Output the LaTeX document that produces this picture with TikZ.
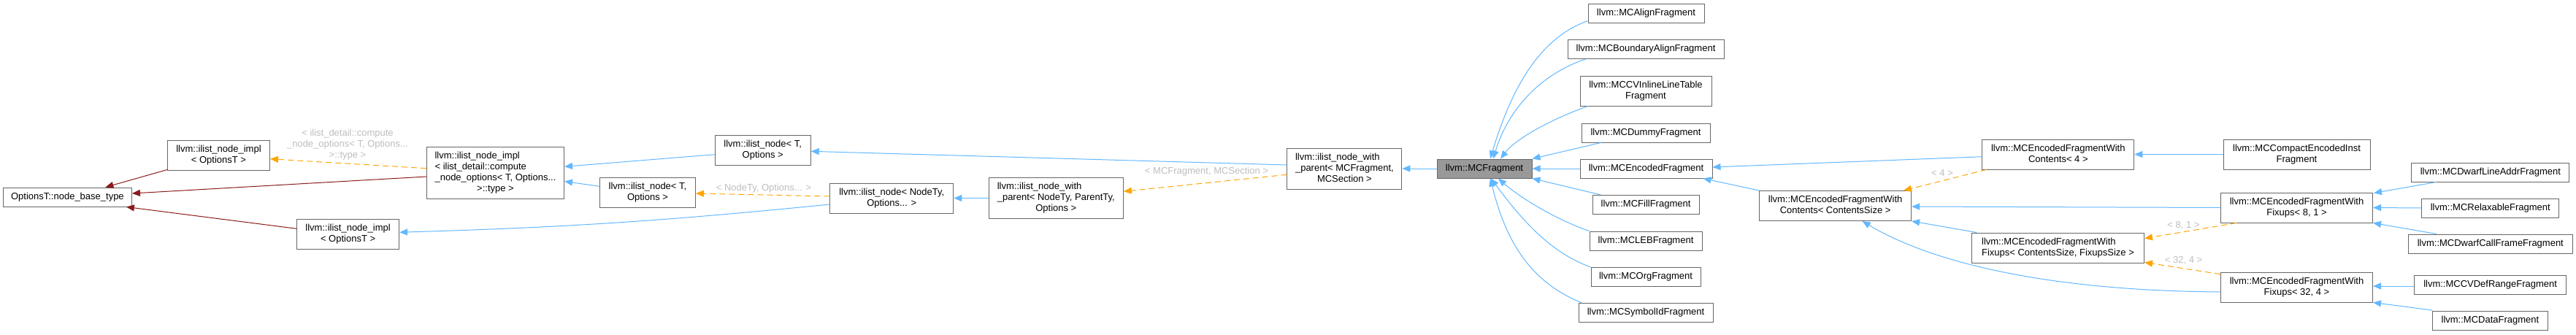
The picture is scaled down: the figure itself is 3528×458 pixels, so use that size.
\documentclass[tikz,border=0pt]{standalone}
\usepackage{fontspec}
\setmainfont{Liberation Sans}
\usetikzlibrary{arrows.meta,calc}
\definecolor{edgeblue}{HTML}{63B8FF}
\definecolor{edgeorange}{HTML}{FFA500}
\definecolor{edgered}{HTML}{8B1A1A}
\definecolor{nodeborder}{HTML}{666666}
\definecolor{nodehi}{HTML}{999999}
\definecolor{labelgray}{HTML}{BEBEBE}
\newcommand{\Cl}[1]{\multicolumn{1}{@{}c@{}}{#1}}
\newcommand{\Tc}[1]{\begin{tabular}{@{}c@{}}#1\end{tabular}}
\newcommand{\Tl}[1]{\begin{tabular}{@{}l@{}}#1\end{tabular}}
\begin{document}
\begin{tikzpicture}[x=1pt,y=-1pt,font=\fontsize{13}{15}\selectfont,
  cls/.style={draw=nodeborder,line width=1pt,fill=white,inner sep=0pt,text=black},
  hicls/.style={cls,fill=nodehi},
  tipx/.style={-{Triangle[length=11pt,width=9pt]}},
  pub/.style={draw=edgeblue,line width=1pt,tipx},
  tmpl/.style={draw=edgeorange,line width=1pt,dash pattern=on 8pt off 5pt,tipx},
  priv/.style={draw=edgered,line width=1pt,tipx},
  elabel/.style={text=labelgray,align=center,inner sep=0pt}]
\fill[white] (0,0) rectangle (3528,458);
\useasboundingbox (0,0) rectangle (3528,458);

% nodes
\node[cls,minimum width=176pt,minimum height=26pt] (base) at (92.4,270) {OptionsT::node\_base\_type};
\node[cls,minimum width=140pt,minimum height=41pt] (implA) at (299.5,212.5) {\Tc{llvm::ilist\_node\_impl\\< OptionsT >}};
\node[cls,minimum width=140pt,minimum height=41pt] (implB) at (476.6,321) {\Tc{llvm::ilist\_node\_impl\\< OptionsT >}};
\node[cls,minimum width=188pt,minimum height=71pt] (implC) at (678.5,236.5) {\Tl{llvm::ilist\_node\_impl\\< ilist\_detail::compute\\\_node\_options< T, Options...\\\Cl{>::type >}}};
\node[cls,minimum width=131pt,minimum height=41pt] (nodeT2) at (887,263.5) {\Tc{llvm::ilist\_node< T,\\Options >}};
\node[cls,minimum width=131pt,minimum height=41pt] (nodeT1) at (1044.7,205.5) {\Tc{llvm::ilist\_node< T,\\Options >}};
\node[cls,minimum width=169pt,minimum height=41pt] (nodeNT) at (1221.3,271.5) {\Tc{llvm::ilist\_node< NodeTy,\\Options... >}};
\node[cls,minimum width=184pt,minimum height=56pt] (wpNT) at (1446.3,271.5) {\Tl{llvm::ilist\_node\_with\\\_parent< NodeTy, ParentTy,\\\Cl{Options >}}};
\node[cls,minimum width=157pt,minimum height=56pt] (wpMC) at (1841.4,231) {\Tl{llvm::ilist\_node\_with\\\_parent< MCFragment,\\\Cl{MCSection >}}};
\node[hicls,minimum width=130pt,minimum height=26pt] (frag) at (2033,231) {llvm::MCFragment};

\node[cls,minimum width=159pt,minimum height=26pt] (align) at (2254.5,18) {llvm::MCAlignFragment};
\node[cls,minimum width=214pt,minimum height=26pt] (boundary) at (2254,67.5) {llvm::MCBoundaryAlignFragment};
\node[cls,minimum width=180pt,minimum height=41pt] (cvinline) at (2254,124.5) {\Tc{llvm::MCCVInlineLineTable\\Fragment}};
\node[cls,minimum width=176pt,minimum height=26pt] (dummy) at (2254,182) {llvm::MCDummyFragment};
\node[cls,minimum width=181pt,minimum height=26pt] (encoded) at (2254.5,231) {llvm::MCEncodedFragment};
\node[cls,minimum width=146pt,minimum height=26pt] (fill) at (2254,280.5) {llvm::MCFillFragment};
\node[cls,minimum width=154pt,minimum height=26pt] (leb) at (2254,330) {llvm::MCLEBFragment};
\node[cls,minimum width=150pt,minimum height=26pt] (org) at (2254,379.5) {llvm::MCOrgFragment};
\node[cls,minimum width=184pt,minimum height=26pt] (symbolid) at (2254,428.5) {llvm::MCSymbolIdFragment};

\node[cls,minimum width=208pt,minimum height=41pt] (wc4) at (2818.8,211.5) {\Tc{llvm::MCEncodedFragmentWith\\Contents< 4 >}};
\node[cls,minimum width=208pt,minimum height=41pt] (wcCS) at (2513.6,282) {\Tc{llvm::MCEncodedFragmentWith\\Contents< ContentsSize >}};
\node[cls,minimum width=236pt,minimum height=41pt] (wfCS) at (2818.5,339.5) {\Tl{llvm::MCEncodedFragmentWith\\Fixups< ContentsSize, FixupsSize >}};
\node[cls,minimum width=201pt,minimum height=41pt] (compact) at (3145.5,211.5) {\Tc{llvm::MCCompactEncodedInst\\Fragment}};
\node[cls,minimum width=208pt,minimum height=41pt] (wf81) at (3145.5,284.5) {\Tc{llvm::MCEncodedFragmentWith\\Fixups< 8, 1 >}};
\node[cls,minimum width=208pt,minimum height=41pt] (wf324) at (3145.5,393.5) {\Tc{llvm::MCEncodedFragmentWith\\Fixups< 32, 4 >}};
\node[cls,minimum width=216pt,minimum height=26pt] (dwarfline) at (3410.8,236) {llvm::MCDwarfLineAddrFragment};
\node[cls,minimum width=188pt,minimum height=26pt] (relax) at (3410.8,285) {llvm::MCRelaxableFragment};
\node[cls,minimum width=225pt,minimum height=26pt] (dwarfcall) at (3410.8,334) {llvm::MCDwarfCallFrameFragment};
\node[cls,minimum width=208pt,minimum height=26pt] (cvdef) at (3410.6,390) {llvm::MCCVDefRangeFragment};
\node[cls,minimum width=158pt,minimum height=26pt] (data) at (3410.4,439.5) {llvm::MCDataFragment};

% edge labels
\node[elabel] (l1) at (476,197.7) {< ilist\_detail::compute\\\_node\_options< T, Options...\\>::type >};
\node[elabel] (l2) at (1046,257.7) {< NodeTy, Options... >};
\node[elabel] (l3) at (1652.5,235) {< MCFragment, MCSection >};
\node[elabel] (l4) at (2660,237) {< 4 >};
\node[elabel] (l5) at (2990.5,309) {< 8, 1 >};
\node[elabel] (l6) at (2990.5,356.7) {< 32, 4 >};

% left part
\draw[priv] ($(implA.south west)+(0,-1)$) -- ($(base.north)+(52,0)$);
\draw[priv] ($(implC.west)+(0,5.5)$) -- ($(base.east)+(0,-5)$);
\draw[priv] ($(implB.west)+(0,-7.7)$) -- ($(base.south east)+(-8,0)$);
\draw[tmpl] ($(implC.west)+(0,-5.8)$) -- ($(implA.east)+(0,5.2)$);
\draw[pub] ($(nodeT2.west)+(0,-8.2)$) -- ($(implC.east)+(0,12)$);
\draw[pub] ($(nodeT1.west)+(0,6.2)$) -- ($(implC.east)+(0,-8.2)$);
\draw[tmpl] ($(nodeNT.west)+(0,-2.5)$) -- ($(nodeT2.east)+(0,1.5)$);
\draw[pub] ($(nodeNT.west)+(0,8.5)$) to[bend left=2] ($(implB.east)+(0,-2.7)$);
\draw[pub] (wpNT.west) -- (nodeNT.east);
\draw[tmpl] ($(wpMC.west)+(0,8.3)$) -- ($(wpNT.east)+(0,-9.2)$);
\draw[pub] ($(wpMC.west)+(0,-5)$) -- ($(nodeT1.east)+(0,1.8)$);
\draw[pub] (frag.west) -- (wpMC.east);

% children of MCFragment
\draw[pub] ($(align.west)+(0,10.7)$) .. controls (2105,53) and (2068,128) .. ($(frag.north)+(8,0)$);
\draw[pub] ($(boundary.south west)+(25,0)$) .. controls (2112,100.7) and (2066,148) .. ($(frag.north)+(12,0)$);
\draw[pub] ($(cvinline.south west)+(11,0)$) .. controls (2125,163) and (2076,190) .. ($(frag.north)+(22,0)$);
\draw[pub] ($(dummy.south west)+(27,0)$) -- (frag.north east);
\draw[pub] (encoded.west) -- (frag.east);
\draw[pub] ($(fill.north west)+(12,0)$) -- (frag.south east);
\draw[pub] (leb.north west) .. controls (2132,301.4) and (2082,271) .. ($(frag.south)+(19,0)$);
\draw[pub] (org.north west) .. controls (2123,346) and (2084,301) .. ($(frag.south)+(9,0)$);
\draw[pub] ($(symbolid.north west)+(5,0)$) .. controls (2092,385) and (2061,325) .. ($(frag.south)+(8,0)$);

% right part
\draw[pub] ($(wc4.west)+(0,3.2)$) -- ($(encoded.east)+(0,-2)$);
\draw[pub] (wcCS.north west) -- ($(encoded.south east)+(-13,0)$);
\draw[tmpl] ($(wc4.south west)+(6,0)$) -- ($(wcCS.north east)+(-11,0)$);
\draw[pub] (compact.west) -- (wc4.east);
\draw[pub] (wf81.west) -- ($(wcCS.east)+(0,1)$);
\draw[pub] ($(wfCS.north west)+(7,0)$) -- (wcCS.south east);
\draw[pub] ($(wf324.west)+(0,6.5)$) .. controls (2760,398) and (2620,345) .. ($(wcCS.south)+(37,0)$);
\draw[tmpl] ($(wf81.south west)+(22,0)$) -- ($(wfCS.east)+(0,-12.8)$);
\draw[tmpl] ($(wf324.west)+(0,-17.8)$) -- ($(wfCS.south east)+(0,-1)$);
\draw[pub] ($(dwarfline.south west)+(34,0)$) -- ($(wf81.north east)+(1,1)$);
\draw[pub] (relax.west) -- (wf81.east);
\draw[pub] ($(dwarfcall.north west)+(39,0)$) -- (wf81.south east);
\draw[pub] ($(cvdef.west)+(0,2)$) -- ($(wf324.east)+(0,-1.5)$);
\draw[pub] ($(data.north west)+(0,-1)$) -- (wf324.south east);
\end{tikzpicture}
\end{document}
